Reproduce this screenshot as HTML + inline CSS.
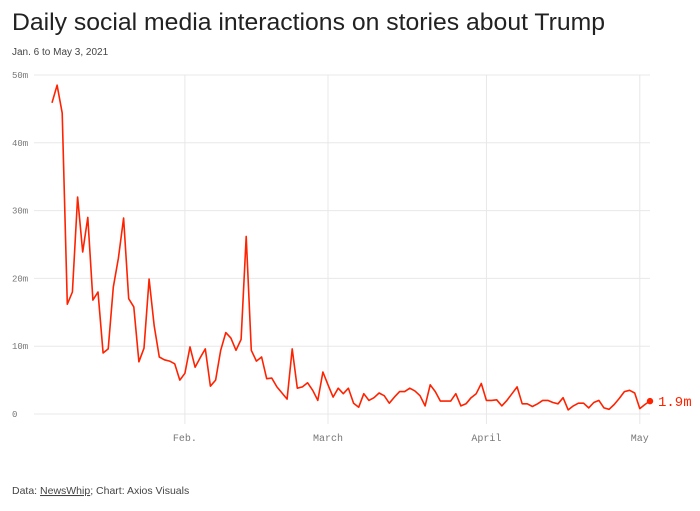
<!DOCTYPE html>
<html><head><meta charset="utf-8"><style>
body{margin:0;background:#fff;width:700px;height:506px;overflow:hidden;font-family:"Liberation Sans",sans-serif;}
</style></head><body>
<svg width="700" height="506" xmlns="http://www.w3.org/2000/svg">
<text x="12" y="30" font-size="24.5" fill="#222" textLength="593" lengthAdjust="spacingAndGlyphs" font-family="Liberation Sans, sans-serif">Daily social media interactions on stories about Trump</text>
<text x="12" y="55" font-size="10" fill="#444">Jan. 6 to May 3, 2021</text>
<g id="grid"></g><g id="axes"></g>
<path id="line" fill="none" stroke="#ff2200" stroke-width="1.6" stroke-linejoin="round"/>
<circle id="enddot" r="3.2" fill="#ff2200"/>
<text id="endlabel" font-size="14" fill="#ff2200" font-family="Liberation Mono, monospace"></text>
<text x="12" y="494" font-size="10.5" fill="#444">Data: <tspan text-decoration="underline">NewsWhip</tspan>; Chart: Axios Visuals</text>
</svg>
<script>
const values=[45.9,48.5,44.4,16.2,18,32,23.9,29,16.8,18,9,9.6,18.7,23,28.9,17,15.8,7.7,9.7,19.9,13,8.4,8,7.8,7.4,5,6,9.9,6.9,8.3,9.6,4.1,5,9.4,12,11.2,9.4,11,26.2,9.4,7.8,8.4,5.2,
5.3,4,3.1,2.2,9.6,3.8,4,4.6,3.5,2,6.2,4.3,2.5,3.8,3,3.8,1.6,1,3,2,2.4,3.1,2.7,1.6,2.5,3.3,3.3,3.8,3.4,2.7,1.2,4.3,3.3,1.9,1.9,1.9,3,1.2,1.5,2.4,3,
4.5,2,2,2.1,1.2,2,3,4,1.5,1.5,1.1,1.5,2,2,1.7,1.5,2.4,0.6,1.2,1.6,1.6,0.9,1.7,2,0.9,0.7,1.4,2.3,3.3,3.5,3.1,0.8,1.4,1.9];
const yTicks=[0,10,20,30,40,50];
const monthLabels=["Feb.","March","April","May"];
const monthDays=[26,54,85,115];
const endLabel="1.9m";
const NS="http://www.w3.org/2000/svg";
const x=d=>52+d*(650-52)/(values.length-1);
const y=v=>414-v*(414-75)/50;
const grid=document.getElementById('grid'),axes=document.getElementById('axes');
function mk(tag,attrs,parent){const e=document.createElementNS(NS,tag);for(const k in attrs)e.setAttribute(k,attrs[k]);parent.appendChild(e);return e;}
yTicks.forEach(t=>{
 const l=mk('line',{x1:34,x2:650,y1:y(t),y2:y(t),stroke:'#e8e8e8','stroke-width':1},grid);
 
 
 const tx=mk('text',{x:12,y:y(t)+3,'font-size':9,fill:'#777','font-family':'Liberation Mono, monospace'},axes);
 tx.textContent=t===0?'0':t+'m';
 
 
});
monthDays.forEach((d,i)=>{
 const l=mk('line',{x1:x(d),x2:x(d),y1:75,y2:424,stroke:'#e8e8e8','stroke-width':1},grid);
 
 
 const tx=mk('text',{x:x(d),y:441,'font-size':10,fill:'#777','text-anchor':'middle','font-family':'Liberation Mono, monospace'},axes);
 tx.textContent=monthLabels[i];
 
 
});
document.getElementById('line').setAttribute('d',values.map((v,i)=>(i?'L':'M')+x(i).toFixed(1)+','+y(v).toFixed(1)).join(''));
const li=values.length-1;
const dot=document.getElementById('enddot');dot.setAttribute('cx',x(li));dot.setAttribute('cy',y(values[li]));
const el=document.getElementById('endlabel');el.setAttribute('x',x(li)+8);el.setAttribute('y',y(values[li])+5);el.textContent=endLabel;
</script>
</body></html>
